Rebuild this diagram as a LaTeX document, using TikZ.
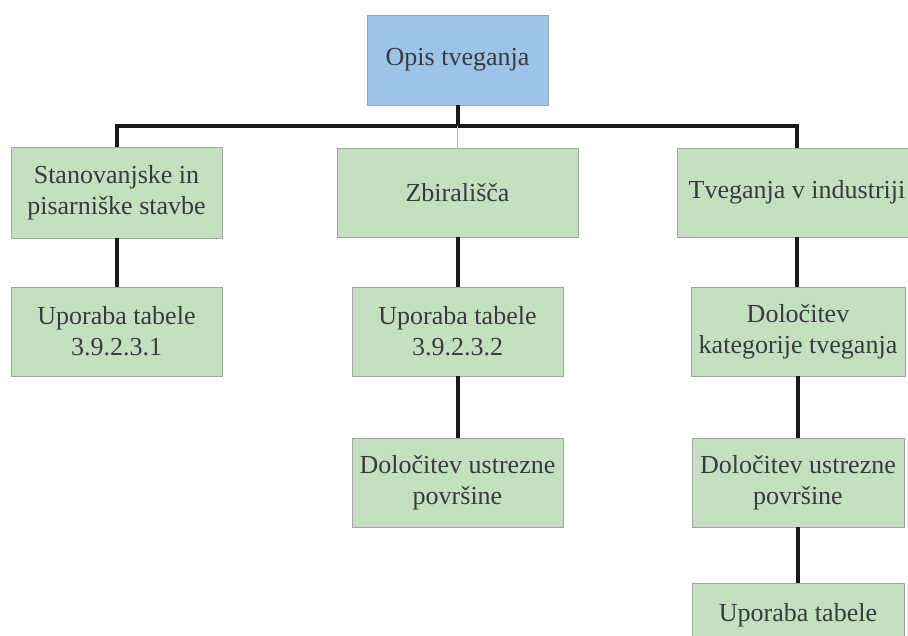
\documentclass[tikz,border=0pt]{standalone}
\usepackage{fontspec}
\setmainfont{Liberation Serif}
\definecolor{bluefill}{HTML}{9DC3E6}
\definecolor{greenfill}{HTML}{C5E0C0}
\definecolor{boxline}{HTML}{A0A8A0}
\definecolor{txt}{HTML}{363C3C}
\tikzset{
  box/.style={draw=boxline, line width=0.8pt, fill=greenfill, align=center, text=txt,
    font=\fontsize{26}{31}\selectfont, inner sep=0pt},
  topbox/.style={box, fill=bluefill},
  link/.style={line width=4pt, draw=black!90},
  thinlink/.style={line width=0.8pt, draw=black!25}
}
\begin{document}
\begin{tikzpicture}[x=1pt,y=-1pt]
\useasboundingbox (0,0) rectangle (908,635);
\clip (0,0) rectangle (908,635);
\fill[white] (0,0) rectangle (908,635);
\node[topbox, minimum width=181pt, minimum height=90pt] (top) at (457.5,60) {Opis tveganja};
\node[box, minimum width=211pt, minimum height=91pt] (L1) at (116.5,192.5) {Stanovanjske in\\pisarniške stavbe};
\node[box, minimum width=211pt, minimum height=89pt] (L2) at (116.5,331.5) {Uporaba tabele\\3.9.2.3.1};
\node[box, minimum width=241pt, minimum height=89pt] (M1) at (457.5,192.5) {Zbirališča};
\node[box, minimum width=211pt, minimum height=89pt] (M2) at (457.5,331.5) {Uporaba tabele\\3.9.2.3.2};
\node[box, minimum width=211pt, minimum height=89pt] (M3) at (457.5,482.5) {Določitev ustrezne\\površine};
\node[box, minimum width=240pt, minimum height=89pt] (R1) at (797,192.5) {Tveganja v industriji};
\node[box, minimum width=214pt, minimum height=89pt] (R2) at (798,331.5) {Določitev\\kategorije tveganja};
\node[box, minimum width=212pt, minimum height=89pt] (R3) at (798,482.5) {Določitev ustrezne\\površine};
\node[box, minimum width=212pt, minimum height=89pt] (R4) at (798,627.5) {Uporaba tabele\\\mbox{}};
\coordinate (j) at (457.5,126);
\draw[link] (top.south) -- (j);
\draw[link] (L1.north) |- (j);
\draw[link] (R1.north) |- (j);
\draw[thinlink] (j) -- (M1.north);
\draw[link] (L1.south) -- (L2.north);
\draw[link] (M1.south) -- (M2.north);
\draw[link] (M2.south) -- (M3.north);
\draw[link] (R1.south) -- (R1.south |- R2.north);
\draw[link] (R2.south) -- (R3.north);
\draw[link] (R3.south) -- (R4.north);
\end{tikzpicture}
\end{document}
